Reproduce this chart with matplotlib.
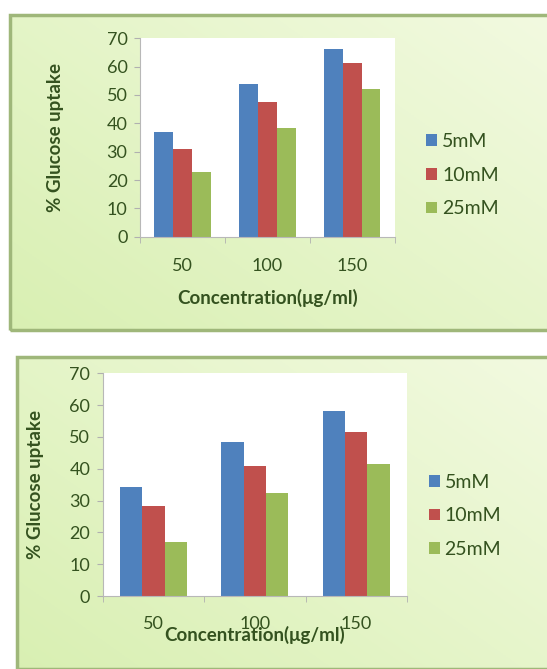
import numpy as np
import matplotlib
matplotlib.use("Agg")
import matplotlib.pyplot as plt
from matplotlib.patches import Rectangle

plt.rcParams['font.family'] = ['Lato', 'DejaVu Sans']

concentrations = ['50', '100', '150']
series_names = ['5mM', '10mM', '25mM']
colors = ['#4F81BD', '#C0504D', '#9BBB59']

# top chart
top_5mM = [37, 54, 66]
top_10mM = [31, 47.5, 61.2]
top_25mM = [23, 38.5, 52]

# bottom chart
bot_5mM = [34.2, 48.3, 58]
bot_10mM = [28.2, 40.8, 51.4]
bot_25mM = [16.9, 32.3, 41.4]

yticks = [0, 10, 20, 30, 40, 50, 60, 70]

txt_col = '#34521f'
fig = plt.figure(figsize=(5.47, 6.69), dpi=100)
fig.patch.set_facecolor('white')


def panel_bg(rect):
    bg = fig.add_axes(rect, zorder=0)
    xx, yy = np.meshgrid(np.linspace(0, 1, 200), np.linspace(0, 1, 200))
    t = 0.55 * (1 - xx) + 0.45 * yy
    c1 = np.array([0.95, 0.98, 0.88])
    c2 = np.array([0.85, 0.94, 0.70])
    img = c1[None, None, :] * (1 - t[..., None]) + c2[None, None, :] * t[..., None]
    bg.imshow(img, aspect='auto', extent=[0, 1, 0, 1], origin='upper')
    bg.set_xlim(0, 1)
    bg.set_ylim(0, 1)
    bg.axis('off')
    bg.add_patch(Rectangle((0, 0), 1, 1, fill=False, edgecolor='#9fb77a',
                           linewidth=2.5, transform=bg.transAxes, clip_on=False))


def bar_panel(rect, data, ylab_x, xlab_y, tick_pad, leg_x, leg_y):
    ax = fig.add_axes(rect, zorder=2)
    x = np.arange(len(concentrations))
    w = 0.22
    for i, vals in enumerate(data):
        ax.bar(x + (i - 1) * w, vals, w, color=colors[i], label=series_names[i])
    ax.set_xlim(-0.5, 2.5)
    ax.set_ylim(0, 70)
    ax.set_yticks(yticks)
    ax.set_yticklabels([str(v) for v in yticks], fontsize=13, color=txt_col)
    ax.set_xticks(x)
    ax.set_xticklabels(concentrations, fontsize=13, color=txt_col)
    ax.set_xticks([-0.5, 0.5, 1.5, 2.5], minor=True)
    ax.tick_params(axis='x', which='major', length=0, pad=tick_pad)
    ax.tick_params(axis='x', which='minor', length=4, color='#b0b0b0')
    ax.tick_params(axis='y', length=4, color='#b0b0b0', pad=5)
    for s in ['top', 'right']:
        ax.spines[s].set_visible(False)
    for s in ['left', 'bottom']:
        ax.spines[s].set_color('#b8b8b8')
    ax.set_facecolor('white')
    ax.set_ylabel('% Glucose uptake', fontsize=13.5, fontweight='bold', color=txt_col)
    ax.yaxis.set_label_coords(ylab_x, 0.5)
    ax.set_xlabel('Concentration(μg/ml)', fontsize=13.5, fontweight='bold', color=txt_col)
    ax.xaxis.set_label_coords(0.5, xlab_y)
    ax.legend(loc='center left', bbox_to_anchor=(leg_x, leg_y), frameon=False,
              fontsize=14, handlelength=0.55, handleheight=0.55, handletextpad=0.25,
              labelspacing=0.85, labelcolor=txt_col)
    return ax


panel_bg([0.018, 0.507, 0.99, 0.471])
bar_panel([0.256, 0.646, 0.466, 0.297], [top_5mM, top_10mM, top_25mM],
          -0.30, -0.26, 15.5, 1.055, 0.31)

panel_bg([0.031, 0.0, 0.98, 0.466])
bar_panel([0.188, 0.109, 0.556, 0.333], [bot_5mM, bot_10mM, bot_25mM],
          -0.195, -0.135, 14.5, 1.015, 0.36)

fig.savefig('out.png', dpi=100)
